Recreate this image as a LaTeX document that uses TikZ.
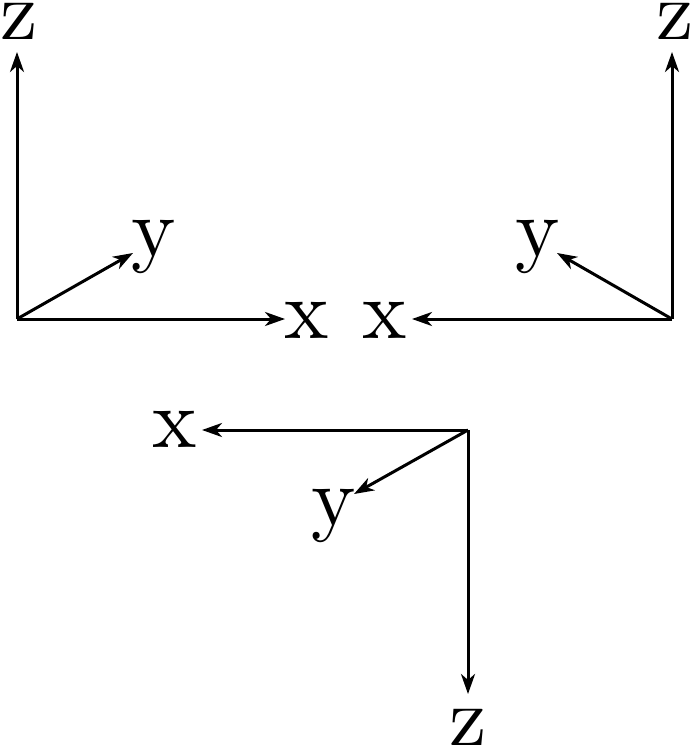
\documentclass[tikz,border=0pt]{standalone}
\usepackage{fontspec}
\newfontfamily\labfont{lmroman10-regular}[Extension=.otf]
\usepackage{tikz}
\usetikzlibrary{arrows.meta,positioning}

\begin{document}
\begin{tikzpicture}[x=0.5pt, y=-0.5pt,
    axis/.style = {line width=1.5pt, -{Stealth[length=10pt, width=7pt, inset=3pt]}},
    lab/.style = {inner sep=0pt, anchor=base, font=\labfont\fontsize{42}{50}\selectfont}]
            \useasboundingbox (0,0) rectangle (694,749);

            \coordinate (o1) at (17, 319);
            \coordinate (o2) at (672, 319);
            \coordinate (o3) at (468, 430);

            \coordinate (x1) at (285, 319);
            \coordinate (y1) at (133, 253);
            \coordinate (z1) at (17, 52);
            \coordinate (x2) at (412, 319);
            \coordinate (y2) at (557, 253);
            \coordinate (z2) at (672, 52);
            \coordinate (x3) at (202, 430);
            \coordinate (y3) at (354, 494);
            \coordinate (z3) at (468, 694);

            \node[lab] (lx1) at (307, 338) {x};
            \node[lab] (ly1) at (154, 256) {y};
            \node[lab] (lz1) at (19, 40) {z};
            \node[lab] (lx2) at (385, 338) {x};
            \node[lab] (ly2) at (538, 256) {y};
            \node[lab] (lz2) at (675, 40) {z};
            \node[lab] (lx3) at (175, 447) {x};
            \node[lab] (ly3) at (334, 525) {y};
            \node[lab] (lz3) at (468, 745) {z};

            \draw[axis] (o1) -- (x1);
            \draw[axis] (o1) -- (y1);
            \draw[axis] (o1) -- (z1);
            \draw[axis] (o2) -- (x2);
            \draw[axis] (o2) -- (y2);
            \draw[axis] (o2) -- (z2);
            \draw[axis] (o3) -- (x3);
            \draw[axis] (o3) -- (y3);
            \draw[axis] (o3) -- (z3);

        \end{tikzpicture}
\end{document}
